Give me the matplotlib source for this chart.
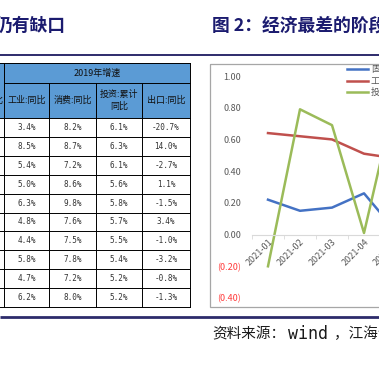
import matplotlib
matplotlib.use('Agg')
import matplotlib.pyplot as plt
from matplotlib.patches import Rectangle
from matplotlib.lines import Line2D

plt.rcParams['font.family'] = ['Noto Sans CJK SC', 'DejaVu Sans']

# ---- table data (2019 growth) ----
table_group = '2019年增速'
table_cols = ['工业:同比', '消费:同比', '投资:累计\n同比', '出口:同比']
industry = ['3.4%', '8.5%', '5.4%', '5.0%', '6.3%', '4.8%', '4.4%', '5.8%', '4.7%', '6.2%']
consumption = ['8.2%', '8.7%', '7.2%', '8.6%', '9.8%', '7.6%', '7.5%', '7.8%', '7.2%', '8.0%']
investment = ['6.1%', '6.3%', '6.1%', '5.6%', '5.8%', '5.7%', '5.5%', '5.4%', '5.2%', '5.2%']
export = ['-20.7%', '14.0%', '-2.7%', '1.1%', '-1.5%', '3.4%', '-1.0%', '-3.2%', '-0.8%', '-1.3%']

# ---- chart data ----
months = ['2021-01', '2021-02', '2021-03', '2021-04', '2021-05']
series_names = ['固定资产投资', '工业增加值', '投资']
blue_vals = [0.22, 0.15, 0.17, 0.26, 0.02]
red_vals = [0.64, 0.62, 0.60, 0.51, 0.48]
green_vals = [-0.20, 0.79, 0.69, 0.01, 0.88]
yticks = [-0.4, -0.2, 0.0, 0.2, 0.4, 0.6, 0.8, 1.0]

NAVY = '#2D2B6B'
W = 379

fig = plt.figure(figsize=(3.79, 3.79), dpi=100)
lay = fig.add_axes([0, 0, 1, 1])
lay.set_xlim(0, W)
lay.set_ylim(W, 0)
lay.axis('off')

# titles and rules
lay.text(66, 26, '仍有缺口', ha='right', va='center', fontsize=12.8,
         fontweight='bold', color='#1B1B6F')
lay.text(212, 26, '图 2：经济最差的阶段已过', ha='left', va='center', fontsize=12.8,
         fontweight='bold', color='#1B1B6F')
lay.plot([0, W], [55, 55], color=NAVY, lw=1.4, solid_capstyle='butt')
lay.plot([0, W], [317, 317], color=NAVY, lw=2, solid_capstyle='butt')

# source line
src_kw = dict(va='center', fontsize=10.5, color='#1a1a1a')
lay.text(212, 334, '资料来源：', ha='left', **src_kw)
lay.text(288, 334, 'wind', ha='left', va='center', family='DejaVu Sans Mono',
         fontsize=12, color='#1a1a1a')
lay.text(334, 334, '，江海证券研究所', ha='left', **src_kw)

# ---- table ----
edges = [4, 49, 96, 142, 190]
top, mid, hbot, tbot = 63, 83, 118, 307
rh = (tbot - hbot) / len(industry)
lay.add_patch(Rectangle((0, top), 190, hbot - top, color='#5B9BD5', lw=0))
lk = dict(color='black', lw=0.7)
lay.plot([0, 190], [top, top], **lk)
lay.plot([4, 190], [mid, mid], **lk)
for i in range(len(industry) + 1):
    y = hbot + i * rh
    lay.plot([0, 190], [y, y], **lk)
lay.plot([4, 4], [top, tbot], **lk)
lay.plot([190, 190], [top, tbot], **lk)
for x in edges[1:-1]:
    lay.plot([x, x], [mid, tbot], **lk)

lay.text((edges[0] + edges[-1]) / 2, (top + mid) / 2, table_group, ha='center',
         va='center', fontsize=6.5, color='#111111')
lay.text(3, (mid + hbot) / 2, '同比', ha='right', va='center', fontsize=6.5,
         color='#111111')
for j, lab in enumerate(table_cols):
    cx = (edges[j] + edges[j + 1]) / 2
    lay.text(cx, (mid + hbot) / 2, lab, ha='center', va='center', fontsize=6.5,
             color='#111111', linespacing=1.3)
for j, col in enumerate([industry, consumption, investment, export]):
    cx = (edges[j] + edges[j + 1]) / 2
    for i, v in enumerate(col):
        lay.text(cx, hbot + (i + 0.5) * rh, v, ha='center', va='center',
                 fontsize=5.5, family='DejaVu Sans Mono', color='#333333')

# chart frame
lay.add_patch(Rectangle((210, 64), 220, 243, fill=False, edgecolor='#A6A6A6', lw=0.9))

# ---- line chart ----
ax = fig.add_axes([252 / W, 81 / W, 160 / W, 222 / W])
ax.patch.set_alpha(0)
x = range(len(months))
ax.plot(x, blue_vals, color='#4472C4', lw=1.8, label=series_names[0])
ax.plot(x, red_vals, color='#C0504D', lw=1.8, label=series_names[1])
ax.plot(x, green_vals, color='#9BBB59', lw=1.8, label=series_names[2])
ax.set_xlim(-0.5, len(months) - 0.5)
ax.set_ylim(-0.4, 1.0)
for s in ['top', 'right', 'left']:
    ax.spines[s].set_visible(False)
ax.spines['bottom'].set_position(('data', 0))
ax.spines['bottom'].set_color('#D9D9D9')
ax.set_yticks(yticks)
ax.set_yticklabels(['({:.2f})'.format(-v) if v < 0 else '{:.2f}'.format(v) for v in yticks])
for t, v in zip(ax.get_yticklabels(), yticks):
    t.set_color('#FF3B3B' if v < 0 else '#595959')
ax.tick_params(axis='y', length=0, pad=8, labelsize=6.5)
ax.set_xticks(list(x))
ax.set_xticklabels(months, rotation=45, ha='right', rotation_mode='anchor')
ax.set_xticks([i - 0.5 for i in range(len(months) + 1)], minor=True)
ax.tick_params(axis='x', which='major', length=0, pad=2, labelsize=6.5,
               labelcolor='#595959')
ax.tick_params(axis='x', which='minor', length=3, color='#D9D9D9')

handles = [Line2D([], [], color=c, lw=1.8) for c in ['#4472C4', '#C0504D', '#9BBB59']]
fig.legend(handles, series_names, loc='upper left', bbox_to_anchor=(347 / W, 1 - 65 / W),
           frameon=False, fontsize=6.5, handlelength=2.3, handletextpad=0.35,
           labelspacing=0.25, borderpad=0, borderaxespad=0, labelcolor='#595959')

fig.savefig('out.png', dpi=100)
